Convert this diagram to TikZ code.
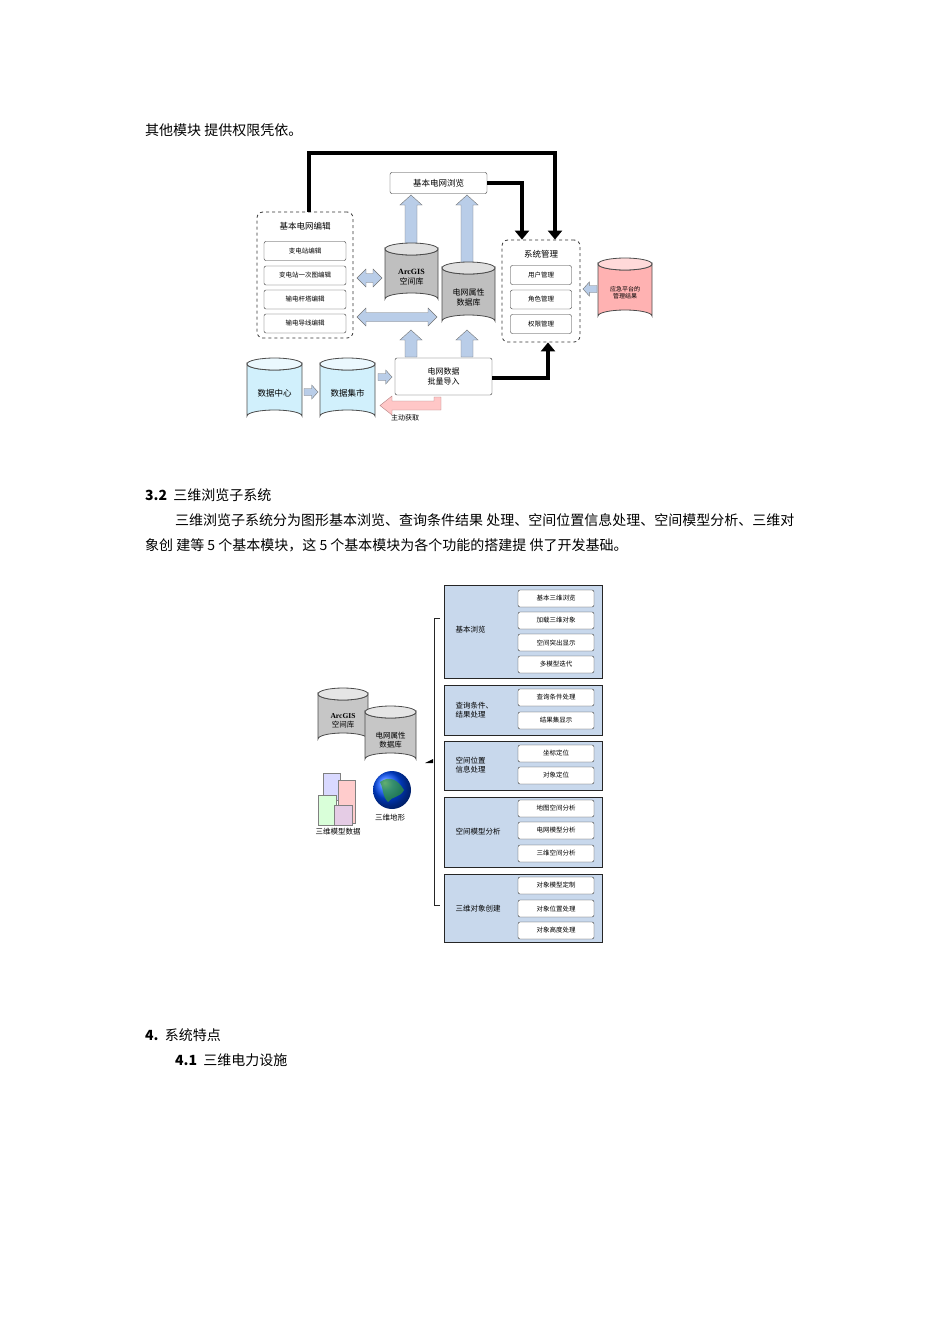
\documentclass[tikz,border=0pt]{standalone}
\usepackage{fontspec}
\setmainfont{Noto Sans CJK SC}
\newfontfamily\ser{Liberation Serif}
\usetikzlibrary{arrows.meta}
\definecolor{panblue}{RGB}{200,216,236}
\definecolor{arrblue}{RGB}{185,205,232}
\newcommand\mycyl[7]{% name, x1, x2, ytop(center), ybot(center), color, top color
 \path[fill=#6,draw=black!70,thick] (#2,#4) -- (#2,#5) arc[start angle=180,end angle=360,x radius={(#3-#2)/2},y radius=6] -- (#3,#4) arc[start angle=0,end angle=180,x radius={(#3-#2)/2},y radius=6] -- cycle;
 \draw[fill=#7,draw=black!70,thick] ({(#2+#3)/2},#4) ellipse[x radius={(#3-#2)/2},y radius=6];}
\newcommand\uparr[3]{% x, ytip, ybase
 \draw[barr] ({#1-6},#3) -- ({#1-6},{#2+10}) -- ({#1-11},{#2+10}) -- (#1,#2) -- ({#1+11},{#2+10}) -- ({#1+6},{#2+10}) -- ({#1+6},#3) -- cycle;}
\newcommand\dblarr[3]{% xa, xb, y
 \draw[barr] (#1,#3) -- ({#1+9},{#3-9}) -- ({#1+9},{#3-4.5}) -- ({#2-9},{#3-4.5}) -- ({#2-9},{#3-9}) -- (#2,#3) -- ({#2-9},{#3+9}) -- ({#2-9},{#3+4.5}) -- ({#1+9},{#3+4.5}) -- ({#1+9},{#3+9}) -- cycle;}
\newcommand\rarr[3]{% xa, xb(tip), y
 \draw[barr] (#1,{#3-3.5}) -- ({#2-0.45*(#2-#1)},{#3-3.5}) -- ({#2-0.45*(#2-#1)},{#3-7}) -- (#2,#3) -- ({#2-0.45*(#2-#1)},{#3+7}) -- ({#2-0.45*(#2-#1)},{#3+3.5}) -- (#1,{#3+3.5}) -- cycle;}
\begin{document}
\begin{tikzpicture}[x=1pt,y=-1pt,
 body/.style={anchor=west,inner sep=0,font=\fontsize{14}{14}\selectfont},
 sm/.style={draw=black!80,rounded corners=2,fill=white,minimum width=82,minimum height=19,inner sep=0,font=\fontsize{6.5}{7}\selectfont},
 dbox/.style={draw=black!80,dashed,thick,rounded corners=6},
 ttl/.style={font=\fontsize{8.5}{9}\selectfont},
 barr/.style={draw=black!55,fill=arrblue,line join=miter},
 thk/.style={line width=3.5,-{Triangle[length=9,width=14]}},
 pan/.style={draw=black!85,thick,fill=panblue,minimum width=158,anchor=north west,inner sep=0},
 in2/.style={draw=black!80,rounded corners=2,fill=white,minimum width=76,minimum height=17,inner sep=0,font=\fontsize{6.5}{7}\selectfont},
 lab/.style={anchor=west,align=left,font=\fontsize{7.5}{9}\selectfont}]
\useasboundingbox (0,0) rectangle (950,1344);
% text
\node[body] (t1) at (145,130) {其他模块 提供权限凭依。};
\node[body] (t2) at (145,495) {\textbf{3.2}\ \ 三维浏览子系统};
\node[body] (t3) at (175,520) {三维浏览子系统分为图形基本浏览、查询条件结果 处理、空间位置信息处理、空间模型分析、三维对};
\node[body] (t4) at (145,545) {象创 建等 5 个基本模块，这 5 个基本模块为各个功能的搭建提 供了开发基础。};
\node[body] (t5) at (145,1035) {\textbf{4.}\ \ 系统特点};
\node[body] (t6) at (175,1060) {\textbf{4.1}\ \ 三维电力设施};
%% diagram 1
\node[draw=black!80,rounded corners=2,minimum width=97,minimum height=21,inner sep=0,ttl] (browse) at (438.5,183) {基本电网浏览};
\node[dbox,minimum width=96,minimum height=126] (edit) at (305,275) {};
\node[ttl] (editT) at (305,226) {基本电网编辑};
\node[sm] (e1) at (305,251) {变电站编辑};
\node[sm] (e2) at (305,275.5) {变电站一次图编辑};
\node[sm] (e3) at (305,299.5) {输电杆塔编辑};
\node[sm] (e4) at (305,323.5) {输电导线编辑};
\node[dbox,minimum width=78,minimum height=102] (sys) at (541,291) {};
\node[ttl] (sysT) at (541,254) {系统管理};
\node[sm,minimum width=61] (s1) at (541,275) {用户管理};
\node[sm,minimum width=61] (s2) at (541,299.5) {角色管理};
\node[sm,minimum width=61] (s3) at (541,324) {权限管理};
\uparr{411}{195}{252}
\uparr{467}{195}{270}
\mycyl{arc}{385}{438}{249}{299}{gray!50}{gray!25}
\node[align=center,font=\fontsize{8}{10}\selectfont] (arcT) at (411.5,277) {{\ser\bfseries ArcGIS}\\空间库};
\mycyl{attr}{442}{495}{268}{321}{gray!50}{gray!25}
\node[align=center,font=\fontsize{8}{10}\selectfont] (attrT) at (468.5,297) {电网属性\\数据库};
\mycyl{emg}{598}{652}{264}{316}{red!30}{red!15}
\node[align=center,font=\fontsize{6}{7}\selectfont] (emgT) at (625,293) {应急平台的\\管理结果};
\mycyl{dc}{247}{302}{364}{416}{cyan!18}{cyan!8}
\node[font=\fontsize{8.5}{9}\selectfont] (dcT) at (274.5,393) {数据中心};
\mycyl{dm}{320}{375}{364}{416}{cyan!18}{cyan!8}
\node[font=\fontsize{8.5}{9}\selectfont] (dmT) at (347.5,393) {数据集市};
\node[draw=black!80,rounded corners=2,minimum width=97,minimum height=37,inner sep=0,align=center,font=\fontsize{8}{10}\selectfont] (imp) at (443.5,376.5) {电网数据\\批量导入};
\uparr{411}{330}{357}
\uparr{467}{330}{357}
\dblarr{357}{382}{278}
\dblarr{357}{437}{317}
\rarr{304}{318}{392}
\rarr{378}{392}{377}
\rarr{597}{583}{289}
% thick connectors
\coordinate (c1) at (309,153);
\coordinate (c2) at (555,153);
\draw[thk] (edit.north -| c1) -- (c1) -- (c2) -- (sys.north -| c2);
\coordinate (c3) at (522,183);
\draw[thk] (browse.east) -- (c3) -- (sys.north -| c3);
\coordinate (c4) at (548,378);
\draw[thk] (imp.east |- c4) -- (c4) -- (sys.south -| c4);
% pink arrow
\draw[draw=red!40!black!50,fill=red!22,line join=miter] (441,397) -- (441,410) -- (392,410) -- (392,415) -- (380,405.5) -- (392,396) -- (392,401) -- (434,401) -- (434,397) -- cycle;
\node[font=\fontsize{7}{8}\selectfont] (pT) at (405,418) {主动获取};
%% diagram 2
\node[pan,minimum height=93] (P1) at (444,585) {};
\node[pan,minimum height=50] (P2) at (444,685) {};
\node[pan,minimum height=49] (P3) at (444,741) {};
\node[pan,minimum height=70] (P4) at (444,797) {};
\node[pan,minimum height=68] (P5) at (444,874) {};
\node[lab] (L1) at (452,630) {基本浏览};
\node[lab] (L2) at (452,710) {查询条件、\\结果处理};
\node[lab] (L3) at (452,765) {空间位置\\信息处理};
\node[lab] (L4) at (452,832) {空间模型分析};
\node[lab] (L5) at (452,909) {三维对象创建};
\node[in2] (a1) at (556,598.5) {基本三维浏览};
\node[in2] (a2) at (556,620.5) {加载三维对象};
\node[in2] (a3) at (556,642.5) {空间突出显示};
\node[in2] (a4) at (556,664.5) {多模型迭代};
\node[in2] (b1) at (556,697.5) {查询条件处理};
\node[in2] (b2) at (556,720.5) {结果集显示};
\node[in2] (c1n) at (556,753.5) {坐标定位};
\node[in2] (c2n) at (556,775.5) {对象定位};
\node[in2] (d1) at (556,808.5) {地图空间分析};
\node[in2] (d2) at (556,830.5) {电网模型分析};
\node[in2] (d3) at (556,853.5) {三维空间分析};
\node[in2] (f1) at (556,885.5) {对象模型定制};
\node[in2] (f2) at (556,908.5) {对象位置处理};
\node[in2] (f3) at (556,930.5) {对象高度处理};
% brace
\coordinate (br1) at (440,618);
\coordinate (br2) at (440,905);
\draw[thick,black!85] (br1) -- ++(-6,0) -- ++(0,287) -- (br2);
\coordinate (bp) at (433,763);
\fill (bp) -- ++(-8,0) -- ++(8,-4) -- cycle;
\mycyl{a}{318}{368}{694}{739}{gray!45}{gray!20}
\node[align=center,font=\fontsize{7.5}{9}\selectfont] (aT) at (343,721) {{\ser\bfseries ArcGIS}\\空间库};
\mycyl{b}{365}{416}{712}{759}{gray!45}{gray!20}
\node[align=center,font=\fontsize{7.5}{9}\selectfont] (bT) at (390.5,740) {电网属性\\数据库};
% 3d blocks
\draw[fill=blue!15,draw=gray] (323,773) rectangle (340,800);
\draw[fill=red!20,draw=gray] (338,780) rectangle (355,823);
\draw[fill=green!15,draw=gray] (318,795) rectangle (336,825);
\draw[fill=violet!20,draw=gray] (334,805) rectangle (352,825);
\node[font=\fontsize{7.5}{9}\selectfont] (mT) at (338,832) {三维模型数据};
\shade[ball color=blue!70!cyan] (392,790) circle (19);
\fill[green!50!black!80,opacity=0.7] (380,782) .. controls (390,775) and (398,780) .. (404,790) .. controls (400,798) and (392,796) .. (388,802) .. controls (382,796) and (384,790) .. cycle;
\node[font=\fontsize{7.5}{9}\selectfont] (gT) at (390,818) {三维地形};
\end{tikzpicture}
\end{document}
